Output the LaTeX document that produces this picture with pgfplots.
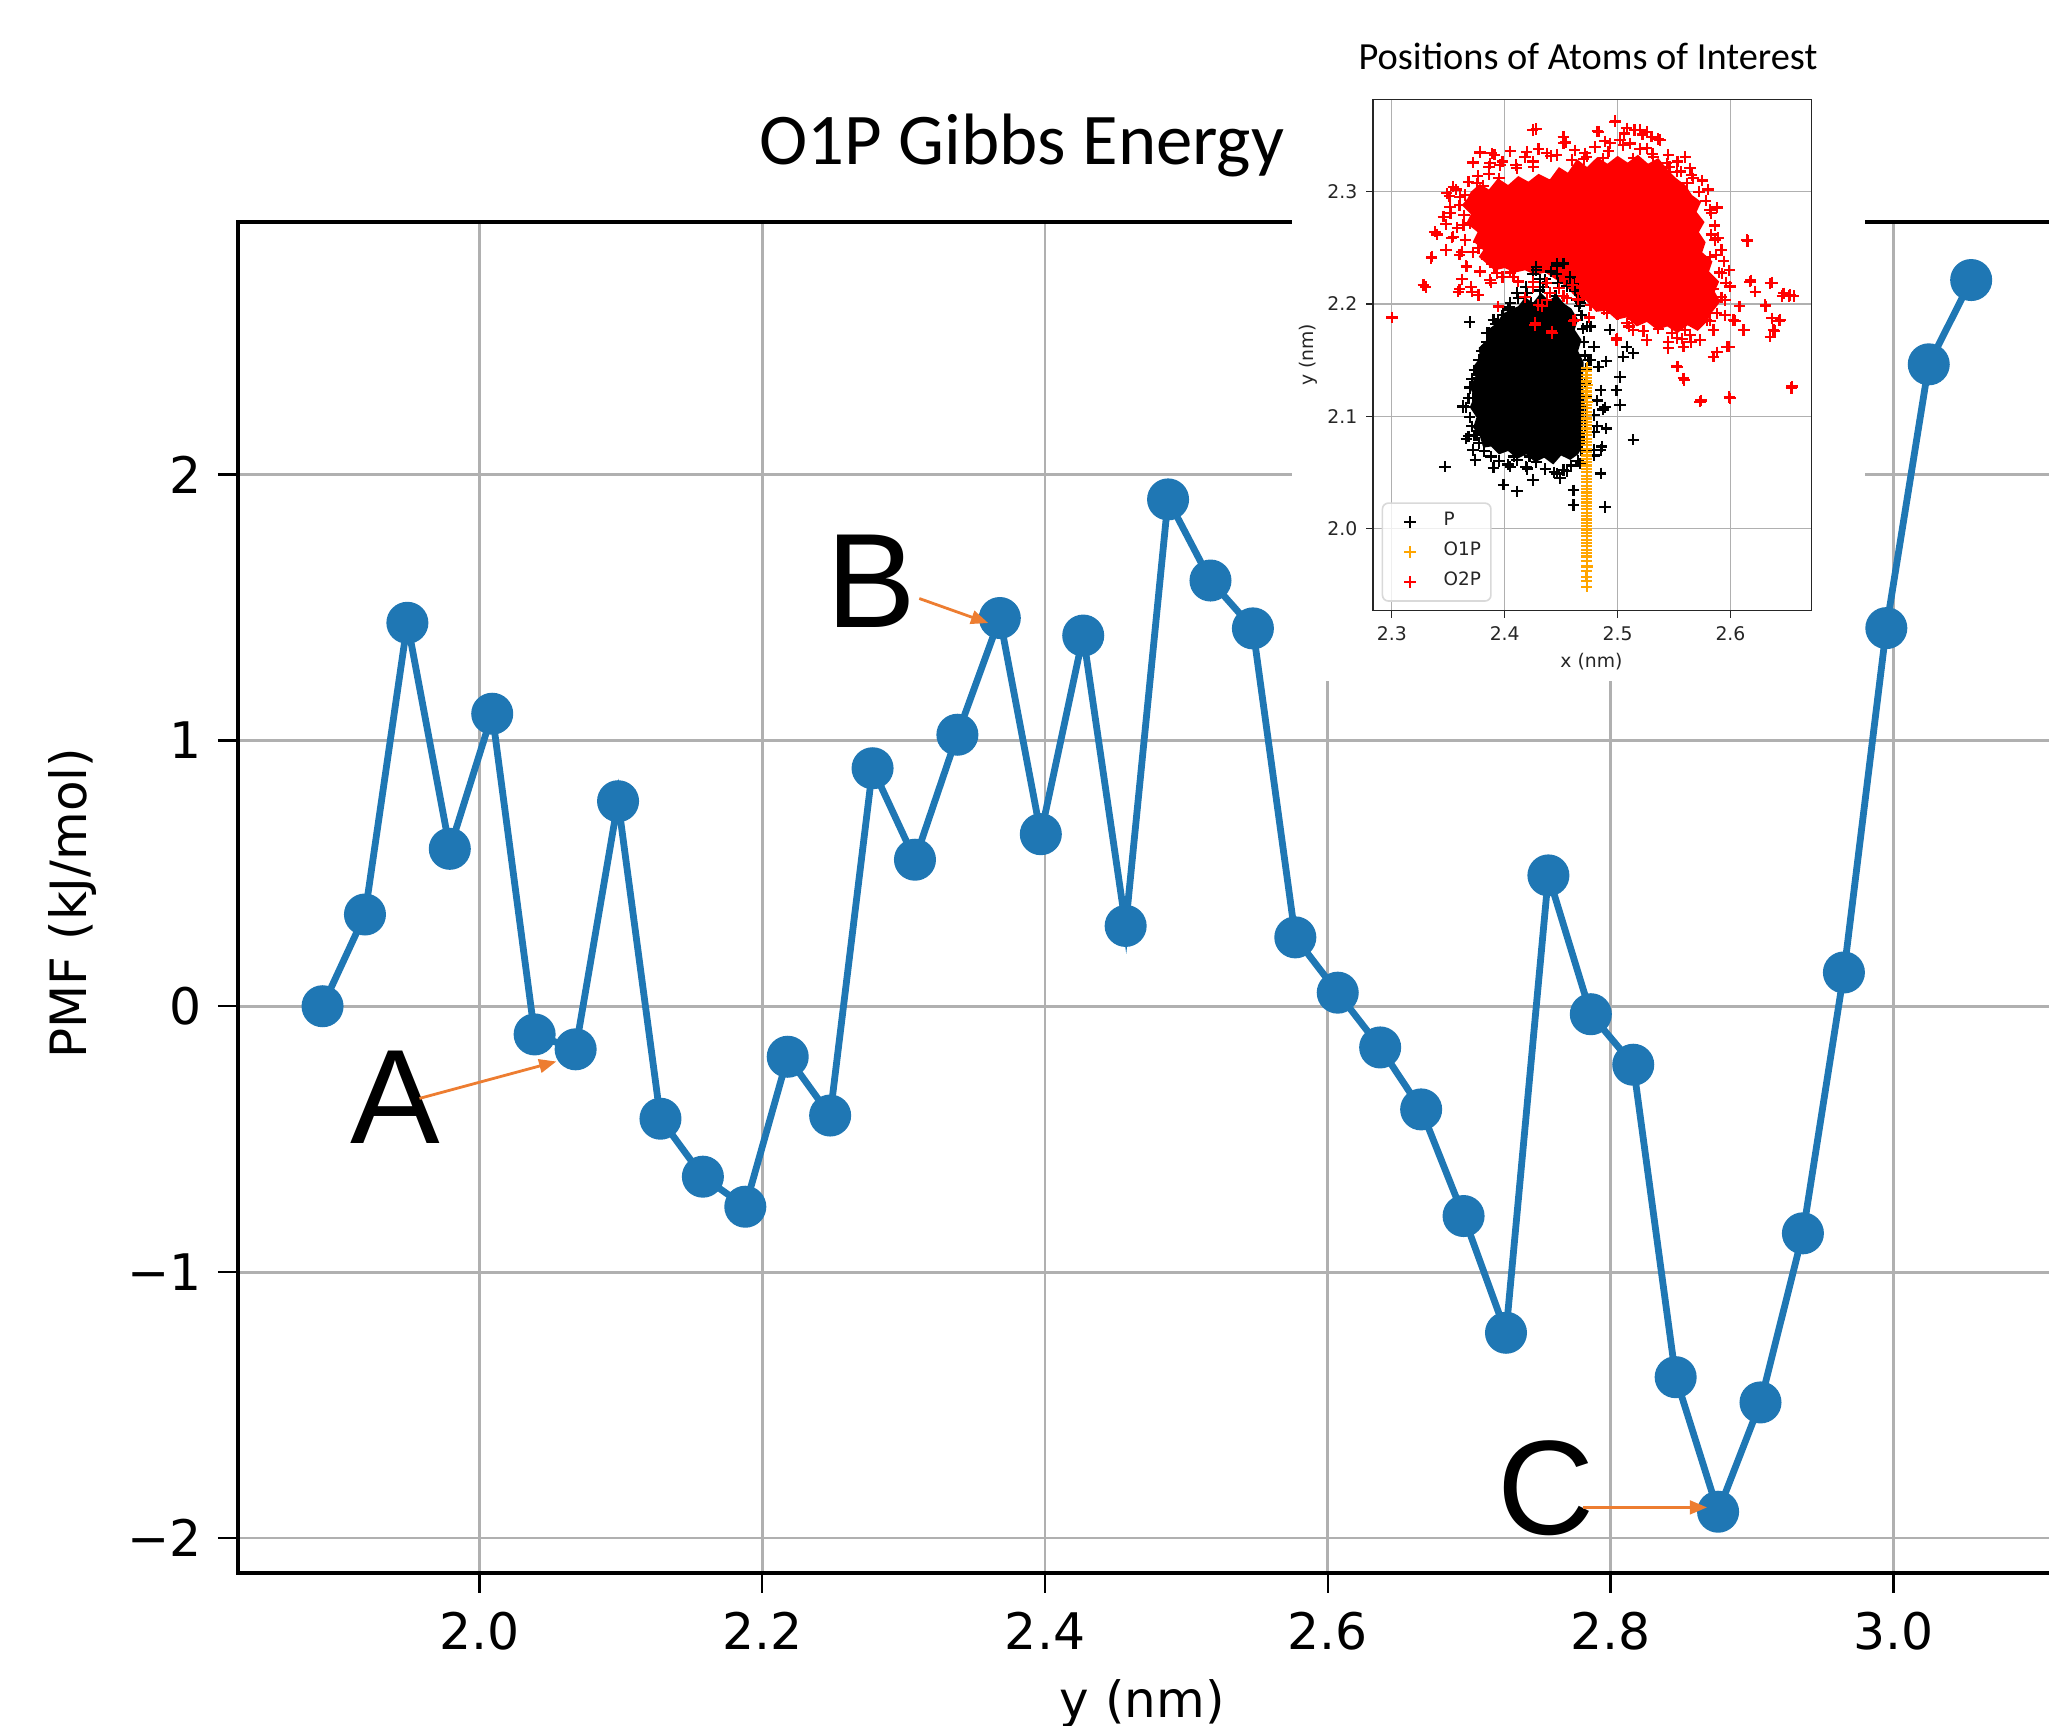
\documentclass[border=0pt]{standalone}
\usepackage{fontspec}
\setmainfont{DejaVu Sans}
\newfontfamily\carlito{Carlito}
\newfontfamily\arialf{Liberation Sans}
\usepackage{pgfplots}
\pgfplotsset{compat=1.18}
\usetikzlibrary{arrows.meta}
\definecolor{mplblue}{HTML}{1F77B4}
\definecolor{pptorange}{HTML}{ED7D31}
\definecolor{gridgray}{HTML}{B0B0B0}
\definecolor{oonep}{HTML}{FFA500}
\definecolor{otwop}{HTML}{FF0000}
\pgfplotsset{pm/.style={only marks, mark=+, mark size=1.42pt, mark options={line width=0.55pt}}}
\begin{document}
\begin{tikzpicture}
\path[use as bounding box] (0pt,0pt) rectangle (512.25pt,-431.5pt);
\clip (0pt,0pt) rectangle (512.25pt,-431.5pt);
% ---------------- main chart ----------------
\begin{axis}[
  at={(59.5pt,-393.15pt)}, anchor=south west,
  scale only axis, width=453.9pt, height=337.7pt,
  xmin=1.8292, xmax=3.1133, ymin=-2.13, ymax=2.95,
  xtick={2.0,2.2,2.4,2.6,2.8,3.0}, xticklabels={2.0,2.2,2.4,2.6,2.8,3.0},
  ytick={-2,-1,0,1,2}, yticklabels={−2,−1,0,1,2},
  tick pos=left, tick align=outside,
  major tick length=5pt,
  tick style={black, line width=0.6pt},
  axis line style={black, line width=1.05pt},
  grid=major, grid style={gridgray, line width=0.7pt},
  tick label style={font=\fontsize{12.6}{15}\selectfont, inner sep=0pt},
  xticklabel style={anchor=north, yshift=-4.6pt},
  yticklabel style={anchor=east, xshift=-3.85pt},
  xlabel={y (nm)}, ylabel={PMF (kJ/mol)},
  every axis x label/.style={at={(axis description cs:0.498,-0.1076)}, anchor=base, font=\fontsize{12.5}{15}\selectfont},
  every axis y label/.style={at={(axis description cs:-0.0909,0.4957)}, anchor=center, rotate=90, font=\fontsize{12.5}{15}\selectfont},
  title={O1P Gibbs Energy},
  every axis title/.style={at={(axis description cs:0.4318,1.0423)}, anchor=base, font=\carlito\fontsize{18.2}{22}\selectfont},
]
\addplot[color=mplblue, line width=1.7pt, mark=*, mark size=4.4pt, mark options={fill=mplblue, draw=none}] coordinates {
(1.889,0.000)(1.919,0.345)(1.949,1.442)(1.979,0.592)(2.009,1.100)(2.039,-0.106)(2.068,-0.162)(2.098,0.771)
(2.128,-0.423)(2.158,-0.641)(2.188,-0.754)(2.218,-0.190)(2.248,-0.411)(2.278,0.895)(2.308,0.551)(2.338,1.021)
(2.368,1.460)(2.397,0.647)(2.427,1.394)(2.457,0.302)(2.487,1.906)(2.517,1.601)(2.547,1.421)(2.577,0.259)
(2.607,0.051)(2.637,-0.155)(2.666,-0.388)(2.696,-0.789)(2.726,-1.228)(2.756,0.492)(2.786,-0.030)(2.816,-0.220)
(2.846,-1.395)(2.876,-1.901)(2.906,-1.490)(2.936,-0.854)(2.965,0.127)(2.995,1.422)(3.025,2.414)(3.055,2.731)};
\end{axis}
% white backdrop of the pasted inset
\fill[white] (323pt,0pt) rectangle (466.25pt,-170.25pt);
% ---------------- inset ----------------
\begin{axis}[
  at={(343.33pt,-152.63pt)}, anchor=south west,
  scale only axis, width=109.55pt, height=127.75pt,
  xmin=2.2836, xmax=2.6718, ymin=1.9268, ymax=2.3822,
  xtick={2.3,2.4,2.5,2.6}, xticklabels={2.3,2.4,2.5,2.6},
  ytick={2.0,2.1,2.2,2.3}, yticklabels={2.0,2.1,2.2,2.3},
  tick pos=left, tick align=outside,
  major tick length=1.8pt,
  tick style={black!85, line width=0.3pt},
  axis line style={black!85, line width=0.45pt},
  grid=major, grid style={gridgray, line width=0.3pt},
  tick label style={font=\fontsize{4.7}{5.5}\selectfont, inner sep=0pt, text=black!85},
  xticklabel style={anchor=north, yshift=-2.0pt},
  yticklabel style={anchor=east, xshift=-2.0pt},
  xlabel={x (nm)}, ylabel={y (nm)},
  every axis x label/.style={at={(axis description cs:0.4977,-0.0994)}, anchor=center, font=\fontsize{4.7}{5.5}\selectfont, text=black!85},
  every axis y label/.style={at={(axis description cs:-0.149,0.5004)}, anchor=center, rotate=90, font=\fontsize{4.7}{5.5}\selectfont, text=black!85},
  title={Positions of Atoms of Interest},
  every axis title/.style={at={(axis description cs:0.49,1.0587)}, anchor=base, font=\carlito\fontsize{9.6}{11}\selectfont},
  legend cell align=left,
  legend image code/.code={\path[draw=none,fill=none] (0pt,-1pt) (9.8pt,1pt); \draw[mark repeat=2,mark phase=2,#1] plot coordinates {(0pt,0pt) (4.9pt,0pt) (9.8pt,0pt)};},
  legend style={at={(0.019,0.017)}, anchor=south west, draw=black!15, rounded corners=1.5pt,
    fill=white, fill opacity=0.8, text opacity=1, text=black!85,
    font=\fontsize{4.6}{5.5}\selectfont, inner xsep=2pt, inner ysep=1.8pt, row sep=1.6pt,
    nodes={inner sep=0.5pt}, /tikz/every odd column/.style={column sep=3pt}},
]
% dense core of P (region saturated by overlapping markers)
\addplot[fill=black, draw=none, forget plot] coordinates {
(2.412,2.198)(2.418,2.206)(2.425,2.201)(2.432,2.210)(2.439,2.203)(2.446,2.208)(2.453,2.200)(2.459,2.196)
(2.465,2.186)(2.462,2.177)(2.468,2.168)(2.465,2.158)(2.470,2.148)(2.469,2.130)(2.471,2.110)(2.469,2.090)(2.470,2.075)(2.465,2.066)
(2.458,2.061)(2.450,2.065)(2.443,2.057)(2.435,2.063)(2.427,2.059)(2.419,2.066)(2.411,2.062)(2.403,2.069)(2.395,2.066)(2.388,2.073)(2.381,2.072)
(2.378,2.082)(2.372,2.090)(2.375,2.099)(2.369,2.108)(2.373,2.117)(2.369,2.126)(2.374,2.135)(2.372,2.144)(2.378,2.152)
(2.377,2.161)(2.384,2.168)(2.385,2.177)(2.393,2.183)(2.398,2.191)(2.405,2.195)};
\addplot[pm, black] coordinates {
(2.428,2.233)(2.441,2.229)(2.452,2.236)(2.436,2.222)(2.447,2.219)(2.458,2.224)(2.419,2.215)(2.431,2.212)(2.462,2.212)
(2.412,2.205)(2.466,2.203)(2.404,2.197)(2.423,2.201)(2.445,2.207)
(2.398,2.190)(2.392,2.182)(2.386,2.174)(2.384,2.166)(2.380,2.158)(2.377,2.150)(2.373,2.141)(2.371,2.133)(2.369,2.125)
(2.368,2.116)(2.366,2.108)(2.369,2.099)(2.371,2.091)(2.373,2.083)(2.377,2.076)(2.382,2.069)(2.388,2.064)(2.395,2.060)
(2.403,2.057)(2.411,2.061)(2.419,2.055)(2.428,2.059)(2.436,2.053)(2.444,2.050)(2.452,2.052)(2.459,2.056)(2.465,2.060)
(2.468,2.070)(2.470,2.080)(2.471,2.092)(2.472,2.104)(2.472,2.117)(2.471,2.130)(2.472,2.142)(2.471,2.154)(2.470,2.166)
(2.469,2.178)(2.468,2.190)(2.466,2.198)
(2.369,2.184)(2.347,2.055)(2.399,2.039)(2.411,2.033)(2.425,2.043)(2.461,2.034)(2.461,2.021)(2.489,2.019)(2.485,2.049)
(2.490,2.089)(2.489,2.108)(2.502,2.110)(2.499,2.123)(2.502,2.135)(2.505,2.153)(2.493,2.177)(2.508,2.162)(2.514,2.156)
(2.514,2.079)(2.479,2.065)(2.486,2.073)(2.446,2.049)(2.420,2.053)(2.375,2.083)(2.366,2.080)(2.363,2.108)(2.369,2.126)
(2.479,2.101)(2.482,2.114)(2.479,2.086)(2.476,2.150)(2.479,2.162)(2.483,2.144)(2.476,2.180)(2.461,2.186)(2.384,2.174)
(2.390,2.186)(2.405,2.201)(2.411,2.210)(2.431,2.222)(2.446,2.234)(2.425,2.227)(2.455,2.216)(2.467,2.201)
(2.490,2.149)(2.485,2.123)(2.487,2.106)(2.482,2.091)(2.479,2.070)(2.485,2.070)(2.455,2.051)(2.449,2.045)(2.420,2.054)
(2.405,2.055)(2.390,2.054)(2.374,2.061)(2.372,2.070)(2.368,2.082)(2.363,2.109)(2.372,2.116)(2.377,2.134)(2.381,2.150)
(2.389,2.166)(2.394,2.186)(2.403,2.195)(2.420,2.210)(2.434,2.215)(2.446,2.227)(2.428,2.230)(2.446,2.236)(2.461,2.218)
(2.464,2.204)(2.473,2.180)(2.474,2.150)(2.464,2.082)(2.467,2.058)(2.393,2.076)(2.408,2.064)(2.437,2.070)(2.422,2.064)};
\addlegendentry{P}
\addplot[pm, oonep] coordinates {
(2.4727,1.948)(2.4727,1.953)(2.4725,1.957)(2.4727,1.962)(2.4729,1.966)(2.4727,1.971)(2.4727,1.975)(2.4727,1.978)
(2.4727,1.981)(2.4727,1.984)(2.4727,1.987)(2.4727,1.990)(2.4727,1.993)(2.4727,1.996)(2.4727,1.999)(2.4727,2.002)
(2.4727,2.005)(2.4727,2.008)(2.4727,2.011)(2.4727,2.014)(2.4727,2.017)(2.4727,2.020)(2.4727,2.023)(2.4727,2.026)
(2.4727,2.029)(2.4727,2.032)(2.4727,2.035)(2.4727,2.038)(2.4727,2.041)(2.4727,2.044)(2.4727,2.047)(2.4727,2.050)
(2.4727,2.053)(2.4727,2.056)(2.4727,2.059)(2.4727,2.062)(2.4727,2.065)(2.4727,2.068)(2.4727,2.071)(2.4727,2.074)
(2.4727,2.077)(2.4727,2.080)(2.4727,2.083)(2.4727,2.086)(2.4727,2.089)(2.4727,2.092)(2.4727,2.095)(2.4727,2.098)
(2.4727,2.101)(2.4727,2.104)(2.4727,2.107)(2.4727,2.110)(2.4729,2.113)(2.4727,2.116)(2.4725,2.119)(2.4727,2.122)
(2.4727,2.125)(2.4729,2.128)(2.4727,2.131)(2.4725,2.134)(2.4727,2.137)(2.4727,2.140)(2.4727,2.143)};
\addlegendentry{O1P}
% dense core of O2P
\addplot[fill=otwop, draw=none, forget plot] coordinates {
(2.370,2.300)(2.378,2.307)(2.386,2.302)(2.394,2.312)(2.403,2.306)(2.412,2.314)(2.421,2.309)(2.430,2.316)(2.440,2.311)
(2.448,2.322)(2.456,2.317)(2.464,2.329)(2.473,2.322)(2.482,2.331)(2.491,2.325)(2.500,2.332)(2.509,2.326)(2.518,2.333)
(2.527,2.325)(2.536,2.330)(2.545,2.319)(2.552,2.312)
(2.560,2.306)(2.566,2.297)(2.574,2.291)(2.570,2.282)(2.577,2.273)(2.572,2.264)(2.578,2.255)(2.575,2.246)(2.584,2.238)
(2.581,2.229)(2.590,2.220)(2.586,2.211)(2.591,2.202)(2.584,2.193)(2.579,2.184)
(2.571,2.176)(2.562,2.181)(2.553,2.174)(2.544,2.180)(2.535,2.177)(2.526,2.184)(2.517,2.180)(2.508,2.188)(2.499,2.186)
(2.490,2.194)(2.481,2.193)(2.472,2.203)(2.463,2.206)(2.454,2.216)(2.445,2.222)(2.436,2.228)(2.427,2.226)(2.418,2.230)
(2.409,2.228)(2.400,2.232)(2.391,2.230)
(2.384,2.236)(2.377,2.242)(2.381,2.248)(2.372,2.256)(2.376,2.264)(2.366,2.272)(2.370,2.280)(2.362,2.288)(2.367,2.294)};
\addplot[pm, otwop] coordinates {
(2.428,2.356)(2.452,2.349)(2.454,2.344)(2.482,2.354)(2.498,2.363)(2.506,2.352)(2.515,2.355)(2.522,2.351)(2.530,2.349)
(2.536,2.347)(2.489,2.345)(2.502,2.346)(2.511,2.343)
(2.378,2.335)(2.391,2.333)(2.405,2.336)(2.418,2.331)(2.430,2.338)(2.441,2.332)(2.462,2.337)(2.470,2.329)(2.480,2.340)
(2.492,2.336)(2.520,2.338)(2.531,2.334)(2.545,2.333)(2.553,2.327)(2.560,2.331)
(2.372,2.326)(2.386,2.322)(2.398,2.327)(2.410,2.324)(2.425,2.327)(2.546,2.322)(2.556,2.318)(2.564,2.321)
(2.351,2.296)(2.357,2.302)(2.365,2.297)(2.368,2.309)(2.376,2.314)(2.381,2.305)(2.360,2.288)(2.371,2.290)(2.383,2.295)
(2.352,2.281)(2.364,2.279)(2.375,2.282)(2.388,2.286)(2.348,2.271)(2.358,2.268)(2.369,2.272)(2.380,2.266)(2.340,2.262)
(2.353,2.259)(2.365,2.257)(2.377,2.255)(2.389,2.260)(2.335,2.241)(2.348,2.248)(2.360,2.244)(2.372,2.246)(2.384,2.240)
(2.366,2.234)(2.378,2.229)(2.391,2.233)(2.402,2.237)(2.362,2.222)(2.370,2.215)(2.388,2.219)(2.398,2.224)(2.328,2.217)
(2.330,2.215)(2.360,2.213)(2.300,2.188)(2.395,2.312)(2.392,2.300)(2.386,2.316)
(2.572,2.300)(2.578,2.292)(2.583,2.281)(2.586,2.270)(2.589,2.259)(2.592,2.248)(2.594,2.238)(2.590,2.228)(2.596,2.219)
(2.585,2.213)(2.592,2.206)(2.580,2.302)(2.575,2.310)(2.567,2.312)(2.583,2.262)(2.587,2.244)(2.578,2.226)(2.599,2.230)
(2.588,2.286)
(2.615,2.256)(2.618,2.221)(2.631,2.198)(2.637,2.219)(2.646,2.207)(2.652,2.207)(2.656,2.207)(2.643,2.185)(2.639,2.176)
(2.604,2.185)(2.612,2.177)(2.599,2.162)(2.588,2.157)(2.553,2.144)(2.559,2.132)(2.574,2.114)(2.599,2.117)(2.654,2.125)
(2.608,2.198)(2.622,2.211)
(2.425,2.215)(2.437,2.219)(2.448,2.214)(2.460,2.217)(2.471,2.212)(2.482,2.216)(2.494,2.209)(2.505,2.204)(2.516,2.199)
(2.528,2.197)(2.540,2.201)(2.552,2.203)(2.563,2.209)(2.574,2.213)(2.583,2.199)(2.573,2.196)(2.561,2.192)(2.549,2.189)
(2.537,2.187)(2.525,2.190)(2.513,2.187)(2.500,2.191)(2.488,2.195)(2.476,2.199)(2.465,2.204)(2.452,2.207)(2.440,2.210)
(2.510,2.180)(2.523,2.176)(2.536,2.178)(2.548,2.174)(2.560,2.177)(2.571,2.182)(2.582,2.185)(2.595,2.190)(2.545,2.166)
(2.557,2.169)(2.565,2.166)(2.499,2.168)(2.442,2.174)(2.427,2.183)(2.461,2.185)(2.475,2.188)(2.433,2.198)(2.418,2.206)
(2.412,2.220)(2.405,2.228)
(2.4248,2.3551)(2.4520,2.3491)(2.4520,2.3432)(2.4830,2.3536)(2.4978,2.3625)(2.5081,2.3566)(2.5199,2.3551)(2.5258,2.3536)
(2.5376,2.3462)(2.5258,2.3388)(2.5051,2.3418)(2.4933,2.3432)(2.4712,2.3343)(2.4195,2.3358)(2.4372,2.3343)(2.4461,2.3328)
(2.3782,2.3358)(2.3885,2.3343)(2.3870,2.3254)(2.3959,2.3239)(2.4106,2.3209)(2.4254,2.3224)(2.4594,2.3283)(2.4727,2.3313)
(2.4874,2.3298)(2.5140,2.3298)(2.5317,2.3313)(2.5435,2.3254)(2.5524,2.3179)(2.5656,2.3150)(2.5612,2.3075)
(2.3545,2.3045)(2.3486,2.2986)(2.3604,2.2956)(2.3752,2.3075)(2.3457,2.2778)(2.3383,2.2644)(2.3545,2.2600)(2.3516,2.2867)
(2.3634,2.2704)(2.3353,2.2422)(2.3619,2.2466)(2.3663,2.2333)(2.3767,2.2496)(2.3841,2.2659)(2.3708,2.2867)(2.3279,2.2170)
(2.3589,2.2110)(2.3708,2.2110)(2.3767,2.2081)(2.3929,2.2274)(2.3870,2.2214)(2.3959,2.2392)(2.4047,2.2541)(2.4077,2.2244)
(2.4254,2.2199)
(2.5819,2.2838)(2.5864,2.2570)(2.5819,2.2422)(2.5923,2.2274)(2.5997,2.2155)(2.5953,2.2036)(2.5878,2.1917)(2.6026,2.1858)
(2.6115,2.1769)(2.6145,2.2570)(2.6174,2.2199)(2.6352,2.2185)(2.6470,2.2096)(2.6529,2.2081)(2.6308,2.1991)(2.6367,2.1872)
(2.6441,2.1858)(2.6352,2.1709)(2.6382,2.1769)
(2.5731,2.1680)(2.5642,2.1724)(2.5524,2.1694)(2.5450,2.1605)(2.5583,2.1620)(2.5258,2.1680)(2.5140,2.1769)(2.5081,2.1828)
(2.4992,2.1694)(2.4903,2.1917)(2.4785,2.2036)(2.5849,2.1531)(2.5967,2.1620)(2.5524,2.1442)(2.5583,2.1338)(2.5731,2.1130)
(2.5997,2.1160)(2.6544,2.1264)(2.5849,2.1769)(2.5790,2.1858)
(2.4268,2.1813)(2.4416,2.1754)(2.4623,2.1858)(2.4298,2.1991)(2.4372,2.2036)(2.4549,2.2051)(2.3944,2.1977)};
\addlegendentry{O2P}
\end{axis}
% ---------------- annotations (pixel frame of the picture) ----------------
\begin{scope}[x=0.25pt,y=-0.25pt]
\node[anchor=base, inner sep=0pt, font=\arialf\fontsize{33.6}{40}\selectfont] at (395.4,1143.7) {A};
\node[anchor=base, inner sep=0pt, font=\arialf\fontsize{33.6}{40}\selectfont] at (871,627) {B};
\node[anchor=base, inner sep=0pt, font=\arialf\fontsize{33.6}{40}\selectfont] at (1546,1534) {C};
\draw[pptorange, line width=0.7pt, -{Triangle[length=4.3pt,width=3.4pt]}] (419.5,1098.4) -- (556.3,1061.5);
\draw[pptorange, line width=0.7pt, -{Triangle[length=4.3pt,width=3.4pt]}] (919.3,598.5) -- (988.2,623);
\draw[pptorange, line width=0.7pt, -{Triangle[length=4.3pt,width=3.4pt]}] (1583.2,1507.4) -- (1707.1,1507.4);
\end{scope}
\end{tikzpicture}
\end{document}
